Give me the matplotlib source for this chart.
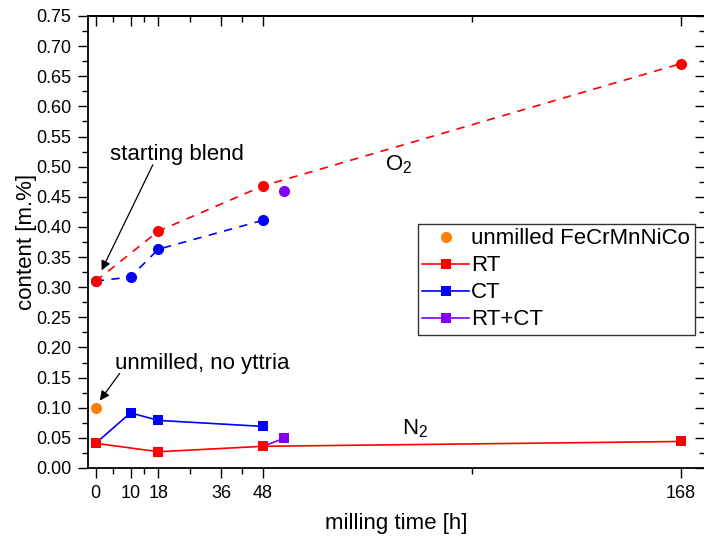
import matplotlib
matplotlib.use("Agg")
import matplotlib.pyplot as plt
from matplotlib.ticker import FixedLocator, MultipleLocator, NullFormatter
from matplotlib.lines import Line2D

plt.rcParams['font.family'] = ['Liberation Sans', 'DejaVu Sans']
plt.rcParams['mathtext.fontset'] = 'custom'
plt.rcParams['mathtext.rm'] = 'Liberation Sans'
plt.rcParams['mathtext.it'] = 'Liberation Sans:italic'
plt.rcParams['mathtext.bf'] = 'Liberation Sans:bold'

# milling times [h]
t_rt = [0, 18, 48, 168]
t_ct = [0, 10, 18, 48]
t_rtct = 54

# oxygen content [m.%]
o2_rt = [0.310, 0.393, 0.468, 0.671]
o2_ct = [0.310, 0.317, 0.363, 0.411]
o2_rtct = 0.460

# nitrogen content [m.%]
n2_rt = [0.041, 0.027, 0.036, 0.044]
n2_ct = [0.041, 0.0915, 0.079, 0.069]
n2_rtct = [0.036, 0.049]

# unmilled powder without yttria
unmilled_x = 0
unmilled_n2 = 0.099

x_major = [0, 10, 18, 36, 48, 168]
x_minor = [5, 14, 27, 42, 108]

RED = '#ff0000'
BLUE = '#0000ff'
PURPLE = '#8000ff'
ORANGE = '#ff8000'

fig = plt.figure(figsize=(7.04, 5.38), dpi=100)
W, H = 704, 538
ax = fig.add_axes([88 / W, 1 - 468 / H, (705 - 88) / W, (468 - 16) / H])

lw = 1.2
dash = (0, (5, 4.5))

# O2 series (dashed, circles)
ax.plot(t_ct, o2_ct, color=BLUE, lw=lw, linestyle=dash, marker='o', ms=8,
        markeredgewidth=0, zorder=3)
ax.plot(t_rt, o2_rt, color=RED, lw=lw, linestyle=dash, marker='o', ms=8,
        markeredgewidth=0, zorder=4)
ax.plot([t_rtct], [o2_rtct], color=PURPLE, marker='o', ms=8,
        markeredgewidth=0, linestyle='none', zorder=4)

# N2 series (solid, squares)
ax.plot(t_ct, n2_ct, color=BLUE, lw=lw, marker='s', ms=7,
        markeredgewidth=0, zorder=3)
ax.plot([t_rt[2], t_rtct], n2_rtct, color=PURPLE, lw=lw, marker='s', ms=7,
        markeredgewidth=0, markevery=[1], zorder=3)
ax.plot(t_rt, n2_rt, color=RED, lw=lw, marker='s', ms=7,
        markeredgewidth=0, zorder=4)
ax.plot([unmilled_x], [unmilled_n2], color=ORANGE, marker='o', ms=8,
        markeredgewidth=0, linestyle='none', zorder=4)

ax.set_xlim(-2.2, 174.9)
ax.set_ylim(0, 0.75)

ax.xaxis.set_major_locator(FixedLocator(x_major))
ax.xaxis.set_minor_locator(FixedLocator(x_minor))
ax.yaxis.set_major_locator(MultipleLocator(0.05))
ax.yaxis.set_minor_locator(MultipleLocator(0.025))
ax.yaxis.set_major_formatter(plt.FuncFormatter(lambda v, p: f"{v:.2f}"))

ax.tick_params(which='major', direction='out', length=7, width=1.0,
               labelsize=13, pad=5)
ax.tick_params(which='minor', direction='out', length=4, width=1.0)

for s in ax.spines.values():
    s.set_linewidth(1.3)

# inward ticks on the top and right edges
top = ax.secondary_xaxis('top')
top.xaxis.set_major_locator(FixedLocator(x_major))
top.xaxis.set_minor_locator(FixedLocator(x_minor))
top.xaxis.set_major_formatter(NullFormatter())
top.tick_params(which='major', direction='in', length=7, width=1.0)
top.tick_params(which='minor', direction='in', length=4, width=1.0)
top.spines['top'].set_linewidth(1.3)

right = ax.secondary_yaxis('right')
right.yaxis.set_major_locator(MultipleLocator(0.05))
right.yaxis.set_minor_locator(MultipleLocator(0.025))
right.yaxis.set_major_formatter(NullFormatter())
right.tick_params(which='major', direction='in', length=7, width=1.0)
right.tick_params(which='minor', direction='in', length=4, width=1.0)

ax.set_xlabel('milling time [h]', fontsize=16, labelpad=8)
ax.set_ylabel('content [m.%]', fontsize=16, labelpad=-1)

# annotations
arrow = dict(arrowstyle='-|>', color='black', lw=0.9, mutation_scale=14,
             shrinkA=0, shrinkB=0)
ax.annotate('starting blend', xy=(1.7, 0.328), xytext=(4.0, 0.52),
            fontsize=16, va='center', ha='left')
ax.annotate('', xy=(1.7, 0.328), xytext=(16.4, 0.503), arrowprops=arrow)
ax.annotate('unmilled, no yttria', xy=(1.2, 0.112), xytext=(5.5, 0.173),
            fontsize=16, va='center', ha='left')
ax.annotate('', xy=(1.2, 0.112), xytext=(6.9, 0.157), arrowprops=arrow)

ax.text(83, 0.503, r'O$_2$', fontsize=16, va='center', ha='left')
ax.text(88, 0.066, r'N$_2$', fontsize=16, va='center', ha='left')

handles = [
    Line2D([], [], color=ORANGE, marker='o', ms=8, markeredgewidth=0, linestyle='none'),
    Line2D([], [], color=RED, lw=lw, marker='s', ms=7, markeredgewidth=0),
    Line2D([], [], color=BLUE, lw=lw, marker='s', ms=7, markeredgewidth=0),
    Line2D([], [], color=PURPLE, lw=lw, marker='s', ms=7, markeredgewidth=0),
]
labels = ['unmilled FeCrMnNiCo', 'RT', 'CT', 'RT+CT']
leg = fig.legend(handles, labels, loc='upper left',
                 bbox_to_anchor=(418 / W, 1 - 224 / H),
                 fontsize=16, frameon=True, fancybox=False,
                 edgecolor='#333333', framealpha=1, borderpad=0.2,
                 labelspacing=0.27, handlelength=2.1, handletextpad=0.1,
                 borderaxespad=0)
leg.get_frame().set_linewidth(1.0)

fig.savefig('out.png', dpi=100)
